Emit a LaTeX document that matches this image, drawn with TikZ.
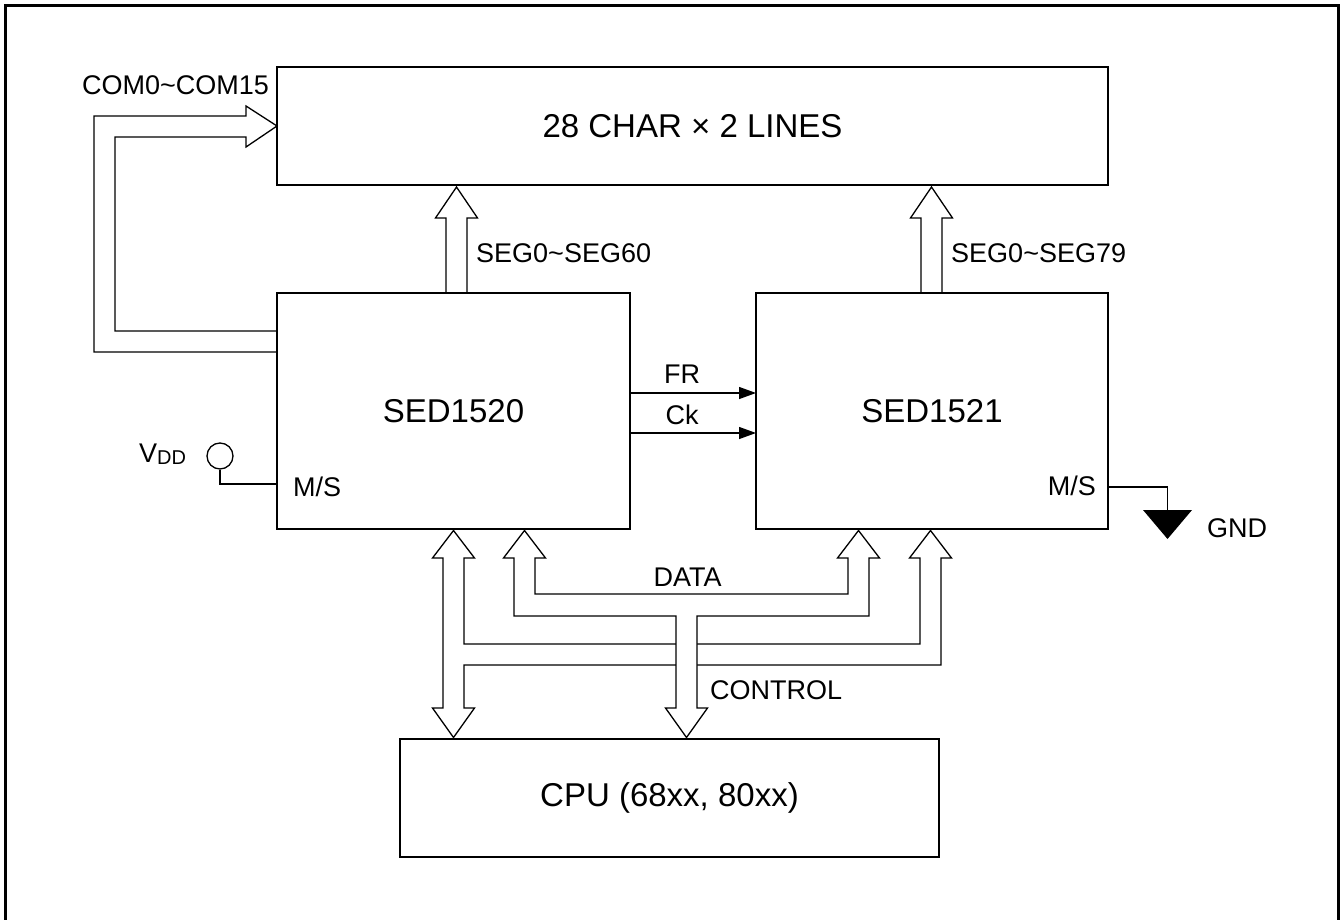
\documentclass[tikz,border=0pt]{standalone}
\usepackage{fontspec}
\setmainfont{Liberation Sans}
\usetikzlibrary{arrows.meta}
\begin{document}
\begin{tikzpicture}[x=1pt,y=-1pt,
  box/.style={draw, line width=2pt, outer sep=0pt, inner sep=0pt, font=\fontsize{33}{33}\selectfont},
  lbl/.style={inner sep=0pt, font=\fontsize{27}{27}\selectfont},
  bus/.style={draw, line width=1.3pt, line join=miter},
  busfill/.style={bus, fill=white},
  sig/.style={line width=1.3pt, -{Triangle[length=17pt,width=12pt]}},
  wire/.style={line width=1.3pt}]
\useasboundingbox (0,0) rectangle (1343,920);
\draw[line width=2.5pt] (5.5,920) -- (5.5,5.5) -- (1338.5,5.5) -- (1338.5,920);

% blocks
\node[box, minimum width=831pt, minimum height=118pt] (lcd) at (692.5,126) {28 CHAR × 2 LINES};
\node[box, minimum width=353pt, minimum height=236pt] (sedA) at (453.5,411) {SED1520};
\node[box, minimum width=352pt, minimum height=236pt] (sedB) at (932,411) {SED1521};
\node[box, minimum width=539pt, minimum height=118pt] (cpu) at (669.5,798) {CPU (68xx, 80xx)};

% COM bus
\draw[bus] (sedA.west |- 0,352) -- (94,352) -- (94,116) -- (246,116) -- (246,106)
  -- (lcd.west) -- (246,147) -- (246,137) -- (115,137) -- (115,331) -- (sedA.west |- 0,331);
\node[lbl, anchor=base west] (com) at (82,95) {COM0\textasciitilde COM15};

% SEG buses
\draw[bus] (446,0 |- sedA.north) -- (446,218) -- (435.5,218) -- (456.5,187) -- (477.5,218)
  -- (467,218) -- (467,0 |- sedA.north);
\node[lbl, anchor=base west] (segA) at (476,262) {SEG0\textasciitilde SEG60};
\draw[bus] (921,0 |- sedB.north) -- (921,218) -- (910.5,218) -- (931.5,187) -- (952.5,218)
  -- (942,218) -- (942,0 |- sedB.north);
\node[lbl, anchor=base west] (segB) at (951,262) {SEG0\textasciitilde SEG79};

% FR / Ck
\draw[sig] (sedA.east |- 0,393) -- (sedB.west |- 0,393);
\draw[sig] (sedA.east |- 0,433) -- (sedB.west |- 0,433);
\node[lbl, anchor=base] (fr) at (682,383) {FR};
\node[lbl, anchor=base] (ck) at (682,424) {Ck};

% M/S
\node[lbl, anchor=base west] (msA) at (293,496) {M/S};
\node[lbl, anchor=base east] (msB) at (1096,495) {M/S};

% VDD
\node[wire, draw, circle, minimum size=26pt, inner sep=0pt] (vdd) at (220,456) {};
\draw[wire] (vdd.south) -- (220,484) -- (sedA.west |- 0,484);
\node[lbl, anchor=base west] (vddl) at (139,462) {V\raisebox{-2pt}{\fontsize{20}{20}\selectfont DD}};

% GND
\coordinate (gnd) at (1167.5,510);
\draw[wire] (sedB.east |- 0,487) -- (gnd |- 0,487) -- (gnd);
\fill (1143,510) -- (1192,510) -- (1167.5,539) -- cycle;
\node[lbl, anchor=base west] (gndl) at (1207,537) {GND};

% CONTROL bus
\draw[busfill] (443,558) -- (432.5,558) -- (453.5,530.5) -- (474.5,558) -- (464,558) -- (464,644)
  -- (920,644) -- (920,558) -- (909.5,558) -- (930.5,530.5) -- (951.5,558) -- (941,558)
  -- (941,665) -- (464,665) -- (464,708) -- (474.5,708) -- (453.5,737.5) -- (432.5,708)
  -- (443,708) -- cycle;

% DATA bus
\draw[busfill] (514,558) -- (503.5,558) -- (524.5,530.5) -- (545.5,558) -- (535,558) -- (535,594)
  -- (848,594) -- (848,558) -- (837.5,558) -- (858.5,530.5) -- (879.5,558) -- (869,558)
  -- (869,616) -- (697,616) -- (697,708) -- (707.5,708) -- (686.5,737.5) -- (665.5,708)
  -- (676,708) -- (676,616) -- (514,616) -- cycle;

\node[lbl, anchor=base] (data) at (687.5,586) {DATA};
\node[lbl, anchor=base west] (ctrl) at (710,699) {CONTROL};
\end{tikzpicture}
\end{document}
